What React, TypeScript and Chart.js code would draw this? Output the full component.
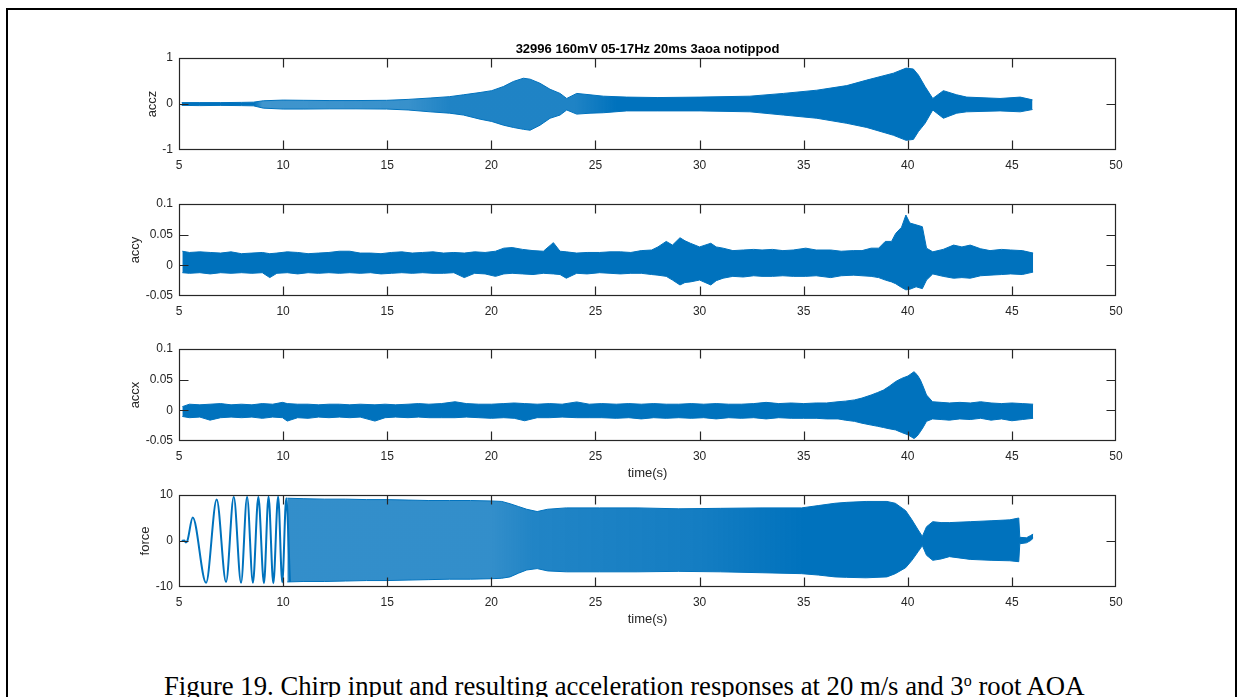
import React, { useEffect, useRef } from "react";
import { Chart, registerables } from "chart.js";

Chart.register(...registerables);

const TITLE = "32996 160mV 05-17Hz 20ms 3aoa notippod";
const X_LABEL = "time(s)";
const CAPTION_MAIN = "Figure 19. Chirp input and resulting acceleration responses at 20 m/s and 3";
const CAPTION_SUP = "o";
const CAPTION_END = " root AOA";

const xTicks = [5, 10, 15, 20, 25, 30, 35, 40, 45, 50];
const acczTicks = [-1, 0, 1];
const accyTicks = [-0.05, 0, 0.05, 0.1];
const accxTicks = [-0.05, 0, 0.05, 0.1];
const forceTicks = [-10, 0, 10];

// [time (s), upper envelope, lower envelope]
const acczEnvelope = [
  [5.13, 0.03, -0.03], [6.0, 0.03, -0.035], [7.0, 0.03, -0.03], [8.0, 0.035, -0.035],
  [8.57, 0.04, -0.04], [9.05, 0.07, -0.09], [10.0, 0.085, -0.11], [11.0, 0.08, -0.11],
  [12.25, 0.075, -0.105], [13.5, 0.075, -0.105], [14.97, 0.08, -0.11], [16.0, 0.1, -0.13],
  [17.06, 0.13, -0.17], [18.0, 0.16, -0.2], [18.66, 0.2, -0.24], [19.46, 0.25, -0.33],
  [20.02, 0.29, -0.38], [20.58, 0.38, -0.46], [21.06, 0.49, -0.51], [21.54, 0.56, -0.55],
  [21.86, 0.54, -0.57], [22.34, 0.45, -0.46], [22.82, 0.32, -0.31], [23.3, 0.23, -0.24],
  [23.62, 0.12, -0.13], [24.1, 0.23, -0.22], [24.74, 0.2, -0.2], [25.38, 0.17, -0.19],
  [26.5, 0.15, -0.15], [28.0, 0.14, -0.15], [30.02, 0.15, -0.15], [32.42, 0.17, -0.17],
  [34.03, 0.23, -0.24], [35.63, 0.3, -0.31], [37.07, 0.4, -0.42], [38.03, 0.52, -0.51],
  [39.31, 0.67, -0.68], [39.92, 0.78, -0.79], [40.27, 0.76, -0.77], [40.51, 0.63, -0.6],
  [40.83, 0.38, -0.42], [41.2, 0.12, -0.13], [41.71, 0.29, -0.31], [42.35, 0.2, -0.2],
  [42.83, 0.15, -0.17], [44.43, 0.12, -0.15], [45.4, 0.15, -0.17], [45.99, 0.09, -0.12],
];

const accyEnvelope = [
  [5.16, 0.023, -0.012], [5.5, 0.021, -0.013], [6.0, 0.022, -0.012], [6.5, 0.021, -0.014],
  [7.0, 0.02, -0.012], [7.5, 0.022, -0.013], [8.0, 0.019, -0.012], [8.5, 0.02, -0.013],
  [9.0, 0.021, -0.012], [9.36, 0.019, -0.02], [9.7, 0.02, -0.013], [10.2, 0.022, -0.012],
  [10.7, 0.021, -0.014], [11.2, 0.019, -0.012], [11.7, 0.02, -0.013], [12.2, 0.021, -0.012],
  [12.7, 0.023, -0.013], [13.2, 0.023, -0.012], [13.7, 0.02, -0.013], [14.2, 0.02, -0.012],
  [14.7, 0.019, -0.014], [15.2, 0.021, -0.013], [15.7, 0.022, -0.012], [16.2, 0.02, -0.013],
  [16.7, 0.021, -0.012], [17.2, 0.022, -0.013], [17.7, 0.02, -0.013], [18.2, 0.021, -0.012],
  [18.7, 0.02, -0.02], [19.2, 0.022, -0.013], [19.7, 0.021, -0.014], [20.2, 0.023, -0.018],
  [20.6, 0.028, -0.014], [21.0, 0.029, -0.013], [21.5, 0.026, -0.014], [22.0, 0.024, -0.015],
  [22.5, 0.023, -0.013], [22.98, 0.037, -0.014], [23.3, 0.023, -0.015], [23.6, 0.022, -0.021],
  [24.1, 0.02, -0.013], [24.6, 0.021, -0.014], [25.2, 0.021, -0.012], [25.7, 0.022, -0.013],
  [26.2, 0.022, -0.014], [26.7, 0.021, -0.013], [27.2, 0.024, -0.013], [27.7, 0.025, -0.015],
  [28.0, 0.03, -0.016], [28.4, 0.039, -0.018], [28.7, 0.033, -0.024], [29.06, 0.045, -0.032],
  [29.3, 0.04, -0.028], [29.56, 0.036, -0.027], [30.0, 0.03, -0.024], [30.54, 0.036, -0.032],
  [30.8, 0.03, -0.025], [31.13, 0.028, -0.021], [31.6, 0.024, -0.018], [32.1, 0.025, -0.019],
  [32.6, 0.026, -0.017], [33.0, 0.025, -0.018], [33.5, 0.026, -0.018], [34.0, 0.024, -0.017],
  [34.5, 0.025, -0.018], [35.1, 0.028, -0.018], [35.6, 0.025, -0.017], [36.3, 0.025, -0.02],
  [36.8, 0.023, -0.017], [37.4, 0.024, -0.016], [37.8, 0.024, -0.017], [38.24, 0.028, -0.018],
  [38.6, 0.028, -0.02], [38.92, 0.039, -0.024], [39.22, 0.039, -0.027], [39.42, 0.052, -0.03],
  [39.7, 0.062, -0.036], [39.91, 0.082, -0.04], [40.1, 0.069, -0.039], [40.4, 0.066, -0.035],
  [40.7, 0.063, -0.038], [40.9, 0.028, -0.024], [41.2, 0.022, -0.014], [41.7, 0.026, -0.018],
  [42.2, 0.033, -0.021], [42.6, 0.03, -0.02], [43.0, 0.033, -0.021], [43.5, 0.027, -0.017],
  [43.95, 0.024, -0.016], [44.5, 0.026, -0.015], [44.94, 0.025, -0.014], [45.5, 0.024, -0.015],
  [46.02, 0.02, -0.011],
];

const accxEnvelope = [
  [5.16, 0.006, -0.01], [5.5, 0.01, -0.012], [6.0, 0.009, -0.011], [6.49, 0.01, -0.016],
  [7.0, 0.011, -0.012], [7.5, 0.009, -0.011], [8.0, 0.01, -0.012], [8.5, 0.009, -0.011],
  [9.0, 0.011, -0.013], [9.5, 0.01, -0.011], [9.97, 0.013, -0.012], [10.2, 0.011, -0.0175],
  [10.7, 0.01, -0.012], [11.2, 0.01, -0.013], [11.7, 0.009, -0.011], [12.2, 0.01, -0.012],
  [12.7, 0.01, -0.011], [13.2, 0.009, -0.012], [13.7, 0.01, -0.011], [14.41, 0.009, -0.0175],
  [14.9, 0.01, -0.012], [15.4, 0.009, -0.011], [16.0, 0.01, -0.012], [16.5, 0.011, -0.011],
  [17.0, 0.01, -0.012], [17.6, 0.011, -0.012], [18.26, 0.014, -0.012], [18.8, 0.011, -0.011],
  [19.4, 0.01, -0.012], [20.0, 0.01, -0.013], [20.6, 0.011, -0.012], [21.1, 0.012, -0.013],
  [21.6, 0.011, -0.017], [22.2, 0.01, -0.012], [22.8, 0.011, -0.012], [23.4, 0.01, -0.011],
  [24.1, 0.0137, -0.012], [24.7, 0.01, -0.012], [25.3, 0.011, -0.012], [26.0, 0.01, -0.013],
  [26.6, 0.011, -0.012], [27.2, 0.01, -0.014], [27.8, 0.011, -0.012], [28.4, 0.01, -0.013],
  [29.0, 0.01, -0.012], [29.6, 0.011, -0.013], [30.2, 0.01, -0.012], [30.8, 0.011, -0.014],
  [31.4, 0.01, -0.012], [32.0, 0.01, -0.013], [32.6, 0.011, -0.012], [33.2, 0.013, -0.014],
  [33.8, 0.011, -0.012], [34.4, 0.012, -0.013], [35.0, 0.011, -0.013], [35.6, 0.012, -0.013],
  [36.1, 0.012, -0.014], [36.65, 0.014, -0.014], [37.0, 0.015, -0.016], [37.44, 0.017, -0.018],
  [37.8, 0.02, -0.021], [38.24, 0.025, -0.024], [38.55, 0.029, -0.026], [38.83, 0.033, -0.028],
  [39.1, 0.039, -0.03], [39.42, 0.047, -0.032], [39.7, 0.052, -0.036], [40.01, 0.056, -0.04],
  [40.3, 0.063, -0.046], [40.45, 0.058, -0.042], [40.6, 0.05, -0.035], [40.75, 0.038, -0.027],
  [40.9, 0.025, -0.018], [41.19, 0.014, -0.014], [41.6, 0.013, -0.015], [42.0, 0.012, -0.016],
  [42.5, 0.013, -0.014], [43.0, 0.012, -0.015], [43.5, 0.014, -0.013], [44.0, 0.012, -0.016],
  [44.5, 0.011, -0.014], [45.0, 0.012, -0.017], [45.5, 0.011, -0.015], [46.02, 0.01, -0.013],
];

const forceEnvelope = [
  [10.2, 9.3, -8.9], [11.0, 9.2, -8.8], [12.0, 9.1, -8.8], [13.0, 9.1, -8.7],
  [14.0, 9.0, -8.6], [15.0, 9.0, -8.6], [16.0, 8.9, -8.5], [17.0, 8.8, -8.4],
  [18.0, 8.8, -8.3], [19.0, 8.8, -8.3], [20.0, 8.7, -8.2], [20.5, 8.6, -8.1],
  [20.9, 8.1, -7.8], [21.3, 7.5, -7.0], [21.7, 6.9, -6.3], [22.2, 6.4, -6.0],
  [22.7, 6.9, -6.5], [23.6, 7.2, -6.7], [25.2, 7.2, -6.7], [27.0, 7.2, -6.7],
  [29.0, 7.0, -6.6], [31.0, 7.1, -6.7], [33.0, 7.2, -6.9], [34.9, 7.2, -7.1],
  [35.7, 7.7, -7.4], [36.5, 8.2, -7.8], [37.05, 8.4, -7.9], [38.0, 8.6, -8.0],
  [39.0, 8.6, -7.8], [39.4, 8.2, -7.1], [39.9, 6.6, -5.8], [40.2, 4.6, -4.2],
  [40.5, 2.4, -2.3], [40.7, 1.0, -1.0], [40.9, 3.1, -3.1], [41.2, 4.2, -4.2],
  [41.6, 4.0, -3.9], [42.0, 4.0, -3.4], [43.0, 4.2, -4.0], [44.0, 4.4, -4.2],
  [44.9, 4.6, -4.3], [45.33, 5.0, -4.5], [45.38, 0.8, -0.6], [45.7, 0.7, -0.4],
  [45.9, 1.2, 0.1], [46.02, 1.5, 0.6],
];

// [time (s), value] of the individually visible early force cycles
const forceCycles = [
  [5.13, 0], [5.25, 0.1], [5.33, -0.3], [5.4, 0], [5.66, 5.1], [6.3, -9.1],
  [6.81, 9.0], [7.26, -8.9], [7.63, 9.6], [7.98, -9.1], [8.27, 9.6], [8.55, -9.1],
  [8.81, 9.6], [9.08, -9.2], [9.3, 9.7], [9.53, -9.2], [9.76, 9.7], [9.96, -9.0],
  [10.15, 9.3], [10.33, -8.9],
];

// fill density along time (dense aliased oscillation looks lighter)
const acczShade = [[5, 1], [8.6, 1], [9.0, 0.75], [16.0, 0.78], [18.0, 0.88], [24.0, 0.88], [26.0, 1], [50, 1]];
const forceShade = [[5, 0.8], [20, 0.8], [22, 0.87], [30, 0.92], [35, 1], [50, 1]];
const solidShade = [[5, 1], [50, 1]];

const W = 1243;
const AREA_LEFT = 179;
const AREA_RIGHT = 1116;
const AREA_H = 92;
const PAD_TOP = 50;
const X_H = 45;
const H = PAD_TOP + AREA_H + X_H;
const BLUE = "#0072BD";
const INK = "#262626";
const FONT = '"Liberation Sans", Arial, Helvetica, sans-serif';

type PanelCfg = {
  key: string;
  yLabel: string;
  labelX: number;
  env: number[][];
  yTicks: number[];
  top: number;
  title?: boolean;
  xLabel?: boolean;
  shade: number[][];
  cycles?: number[][];
};

const panels: PanelCfg[] = [
  { key: "accz", yLabel: "accz", labelX: 152, env: acczEnvelope, yTicks: acczTicks, top: 58, title: true, shade: acczShade },
  { key: "accy", yLabel: "accy", labelX: 135, env: accyEnvelope, yTicks: accyTicks, top: 204, shade: solidShade },
  { key: "accx", yLabel: "accx", labelX: 135, env: accxEnvelope, yTicks: accxTicks, top: 349, xLabel: true, shade: solidShade },
  { key: "force", yLabel: "force", labelX: 145, env: forceEnvelope, yTicks: forceTicks, top: 495, xLabel: true, shade: forceShade, cycles: forceCycles },
];

const framePlugin = {
  id: "matlabFrame",
  afterDraw(chart: any, _args: any, opts: any) {
    const { ctx, chartArea: a, scales } = chart;
    const xs = scales.x;
    const ys = scales.y;
    ctx.save();
    ctx.strokeStyle = INK;
    ctx.lineWidth = 1.2;
    const L = Math.round(a.left) + 0.5;
    const R = Math.round(a.right) - 0.5;
    const T = Math.round(a.top) + 0.5;
    const B = Math.round(a.bottom) - 0.5;
    ctx.strokeRect(L, T, R - L, B - T);
    ctx.beginPath();
    xTicks.forEach((v) => {
      if (v === xs.min || v === xs.max) return;
      const px = Math.round(xs.getPixelForValue(v)) + 0.5;
      ctx.moveTo(px, B);
      ctx.lineTo(px, B - 9);
      ctx.moveTo(px, T);
      ctx.lineTo(px, T + 9);
    });
    (opts.yTicks as number[]).forEach((v) => {
      if (v === ys.min || v === ys.max) return;
      const py = Math.round(ys.getPixelForValue(v)) + 0.5;
      ctx.moveTo(L, py);
      ctx.lineTo(L + 9, py);
      ctx.moveTo(R, py);
      ctx.lineTo(R - 9, py);
    });
    ctx.stroke();

    ctx.fillStyle = INK;
    ctx.font = `13px ${FONT}`;
    ctx.textAlign = "center";
    ctx.textBaseline = "middle";
    ctx.save();
    ctx.translate(opts.labelX, (a.top + a.bottom) / 2);
    ctx.rotate(-Math.PI / 2);
    ctx.fillText(opts.yLabel, 0, 0);
    ctx.restore();
    if (opts.xLabel) ctx.fillText(X_LABEL, (a.left + a.right) / 2, a.bottom + 32);
    if (opts.title) {
      ctx.font = `bold 13px ${FONT}`;
      ctx.fillStyle = "#000";
      ctx.fillText(TITLE, (a.left + a.right) / 2, a.top - 9);
    }
    ctx.restore();
  },
};

function shadeFill(shade: number[][]) {
  return (c: any) => {
    const chart = c.chart;
    const a = chart.chartArea;
    if (!a) return BLUE;
    const xs = chart.scales.x;
    const g = chart.ctx.createLinearGradient(a.left, 0, a.right, 0);
    shade.forEach(([t, al]) => {
      const p = (xs.getPixelForValue(t) - a.left) / (a.right - a.left);
      g.addColorStop(Math.min(1, Math.max(0, p)), `rgba(0,114,189,${al})`);
    });
    return g;
  };
}

function Panel({ cfg }: { cfg: PanelCfg }) {
  const ref = useRef<HTMLCanvasElement>(null);
  useEffect(() => {
    const datasets: any[] = [
      {
        data: cfg.env.map((r) => ({ x: r[0], y: r[1] })),
        borderColor: BLUE,
        borderWidth: 1,
        pointRadius: 0,
        fill: false,
        tension: 0,
      },
      {
        data: cfg.env.map((r) => ({ x: r[0], y: r[2] })),
        borderColor: BLUE,
        borderWidth: 1,
        pointRadius: 0,
        fill: "-1",
        backgroundColor: shadeFill(cfg.shade),
        tension: 0,
      },
    ];
    if (cfg.cycles) {
      datasets.push({
        data: cfg.cycles.map((r) => ({ x: r[0], y: r[1] })),
        borderColor: BLUE,
        borderWidth: 2,
        pointRadius: 0,
        fill: false,
        cubicInterpolationMode: "monotone",
      });
    }
    const chart = new Chart(ref.current as HTMLCanvasElement, {
      type: "line",
      data: { datasets },
      options: {
        animation: false,
        responsive: false,
        devicePixelRatio: 1,
        events: [],
        layout: { padding: { left: 0, right: W - AREA_RIGHT, top: PAD_TOP, bottom: 0 } },
        plugins: {
          legend: { display: false },
          tooltip: { enabled: false },
          title: { display: false },
          matlabFrame: {
            yLabel: cfg.yLabel,
            labelX: cfg.labelX,
            xLabel: !!cfg.xLabel,
            title: !!cfg.title,
            yTicks: cfg.yTicks,
          },
        } as any,
        scales: {
          x: {
            type: "linear",
            min: 5,
            max: 50,
            grid: { display: false, drawTicks: false },
            border: { display: false },
            ticks: {
              autoSkip: false,
              maxRotation: 0,
              padding: 8,
              color: INK,
              font: { family: FONT, size: 12 },
              callback: (v: any) => String(v),
            },
            afterBuildTicks: (s: any) => {
              s.ticks = xTicks.map((v) => ({ value: v }));
            },
            afterFit: (s: any) => {
              s.height = X_H;
            },
          },
          y: {
            type: "linear",
            min: cfg.yTicks[0],
            max: cfg.yTicks[cfg.yTicks.length - 1],
            grid: { display: false, drawTicks: false },
            border: { display: false },
            ticks: {
              autoSkip: false,
              padding: 6,
              color: INK,
              font: { family: FONT, size: 12 },
              callback: (v: any) => String(v),
            },
            afterBuildTicks: (s: any) => {
              s.ticks = cfg.yTicks.map((v) => ({ value: v }));
            },
            afterFit: (s: any) => {
              s.width = AREA_LEFT;
            },
          },
        },
      } as any,
      plugins: [framePlugin],
    });
    return () => chart.destroy();
  }, []);
  return (
    <canvas
      ref={ref}
      width={W}
      height={H}
      style={{ position: "absolute", left: 0, top: cfg.top - PAD_TOP, width: W, height: H }}
    />
  );
}

export default function App() {
  return (
    <div
      style={{
        position: "fixed",
        left: 0,
        top: 0,
        width: W,
        height: 697,
        overflow: "hidden",
        background: "#fff",
      }}
    >
      <div
        style={{
          position: "absolute",
          left: 6,
          top: 8,
          width: 1231,
          height: 760,
          border: "2px solid #000",
          boxSizing: "border-box",
        }}
      />
      {panels.map((p) => (
        <Panel key={p.key} cfg={p} />
      ))}
      <div
        style={{
          position: "absolute",
          left: 164,
          top: 673,
          fontFamily: '"Liberation Serif", "Times New Roman", serif',
          fontSize: 26.7,
          lineHeight: "27px",
          whiteSpace: "nowrap",
          color: "#000",
        }}
      >
        {CAPTION_MAIN}
        <span style={{ fontSize: "0.6em", position: "relative", top: "-0.55em" }}>{CAPTION_SUP}</span>
        {CAPTION_END}
      </div>
    </div>
  );
}
